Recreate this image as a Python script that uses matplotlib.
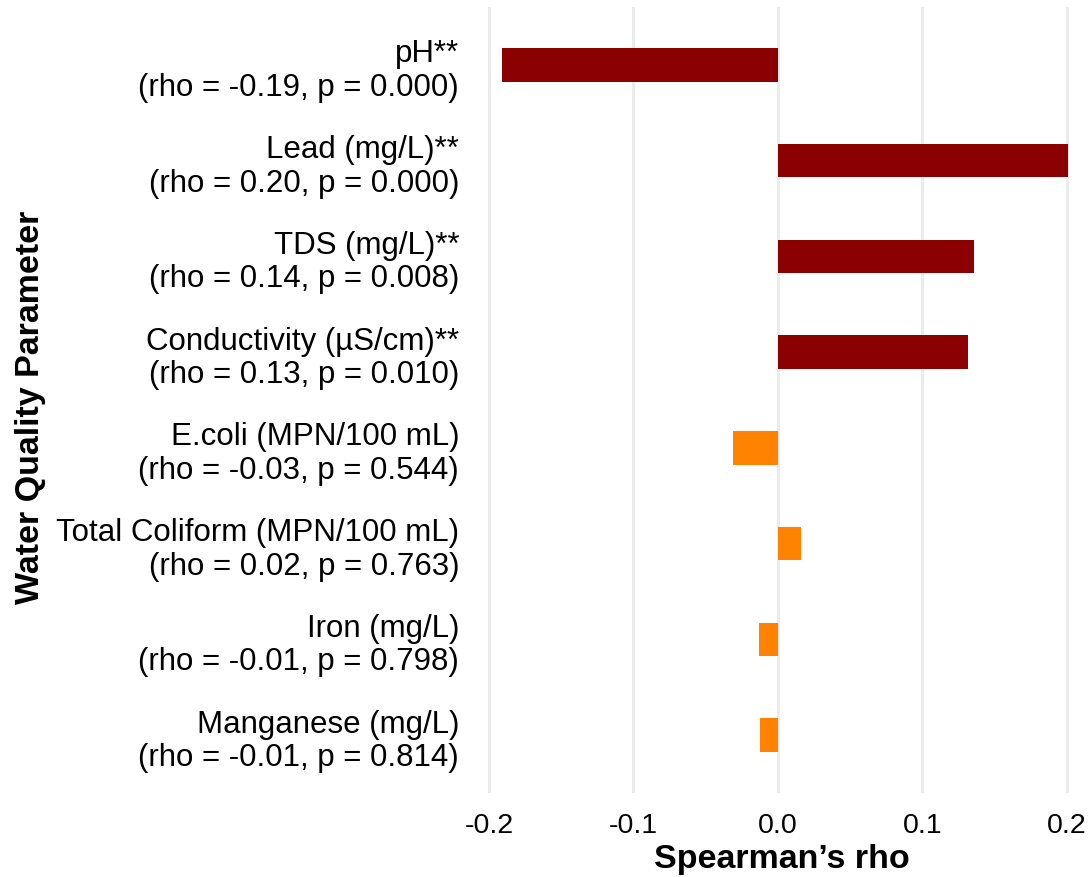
import matplotlib
matplotlib.use("Agg")
import matplotlib.pyplot as plt
import numpy as np

# Spearman correlations between each water quality parameter and the outcome
parameters = [
    "pH**",
    "Lead (mg/L)**",
    "TDS (mg/L)**",
    "Conductivity (\u00b5S/cm)**",
    "E.coli (MPN/100 mL)",
    "Total Coliform (MPN/100 mL)",
    "Iron (mg/L)",
    "Manganese (mg/L)",
]
rho = [-0.191, 0.201, 0.136, 0.132, -0.031, 0.016, -0.013, -0.012]
p_values = [0.000, 0.000, 0.008, 0.010, 0.544, 0.763, 0.798, 0.814]
x_ticks = [-0.2, -0.1, 0.0, 0.1, 0.2]

plt.rcParams["font.family"] = ["Liberation Sans", "DejaVu Sans"]

sig_color = "#8B0000"
nonsig_color = "#FF8300"
colors = [sig_color if p < 0.05 else nonsig_color for p in p_values]
labels = [f"{name}\n(rho = {r:.2f}, p = {p:.3f})" for name, r, p in zip(parameters, rho, p_values)]

fig = plt.figure(figsize=(10.91, 8.78), dpi=100)
W, H = 1091, 878
left_px, right_px, top_px, bottom_px = 474.5, 1089, 8.4, 793.6
ax = fig.add_axes([left_px / W, 1 - bottom_px / H,
                   (right_px - left_px) / W, (bottom_px - top_px) / H])

y = np.arange(len(parameters))
ax.barh(y, rho, height=0.35, color=colors, zorder=3)

ax.set_xlim(-0.21, 0.2155)
ax.set_ylim(len(parameters) - 0.4, -0.6)
ax.set_xticks(x_ticks)
ax.set_xticklabels([f"{t:.1f}" for t in x_ticks])
ax.set_yticks(y)
ax.set_yticklabels(labels, linespacing=1.15)

ax.grid(axis="x", color="#EBEBEB", linewidth=2.2, zorder=0)
ax.grid(axis="y", visible=False)
for s in ax.spines.values():
    s.set_visible(False)
ax.tick_params(axis="both", length=0, labelsize=20.5, colors="black")
ax.tick_params(axis="y", pad=11, labelsize=22.5)
ax.tick_params(axis="x", pad=14)

fig.text((left_px + right_px) / 2 / W, 1 - 860 / H, "Spearman\u2019s rho",
         ha="center", va="center", fontsize=24.5, fontweight="bold")
fig.text(31 / W, 1 - 407 / H, "Water Quality Parameter", rotation=90,
         ha="center", va="center", fontsize=24.5, fontweight="bold")

fig.savefig("out.png", dpi=100, facecolor="white")
